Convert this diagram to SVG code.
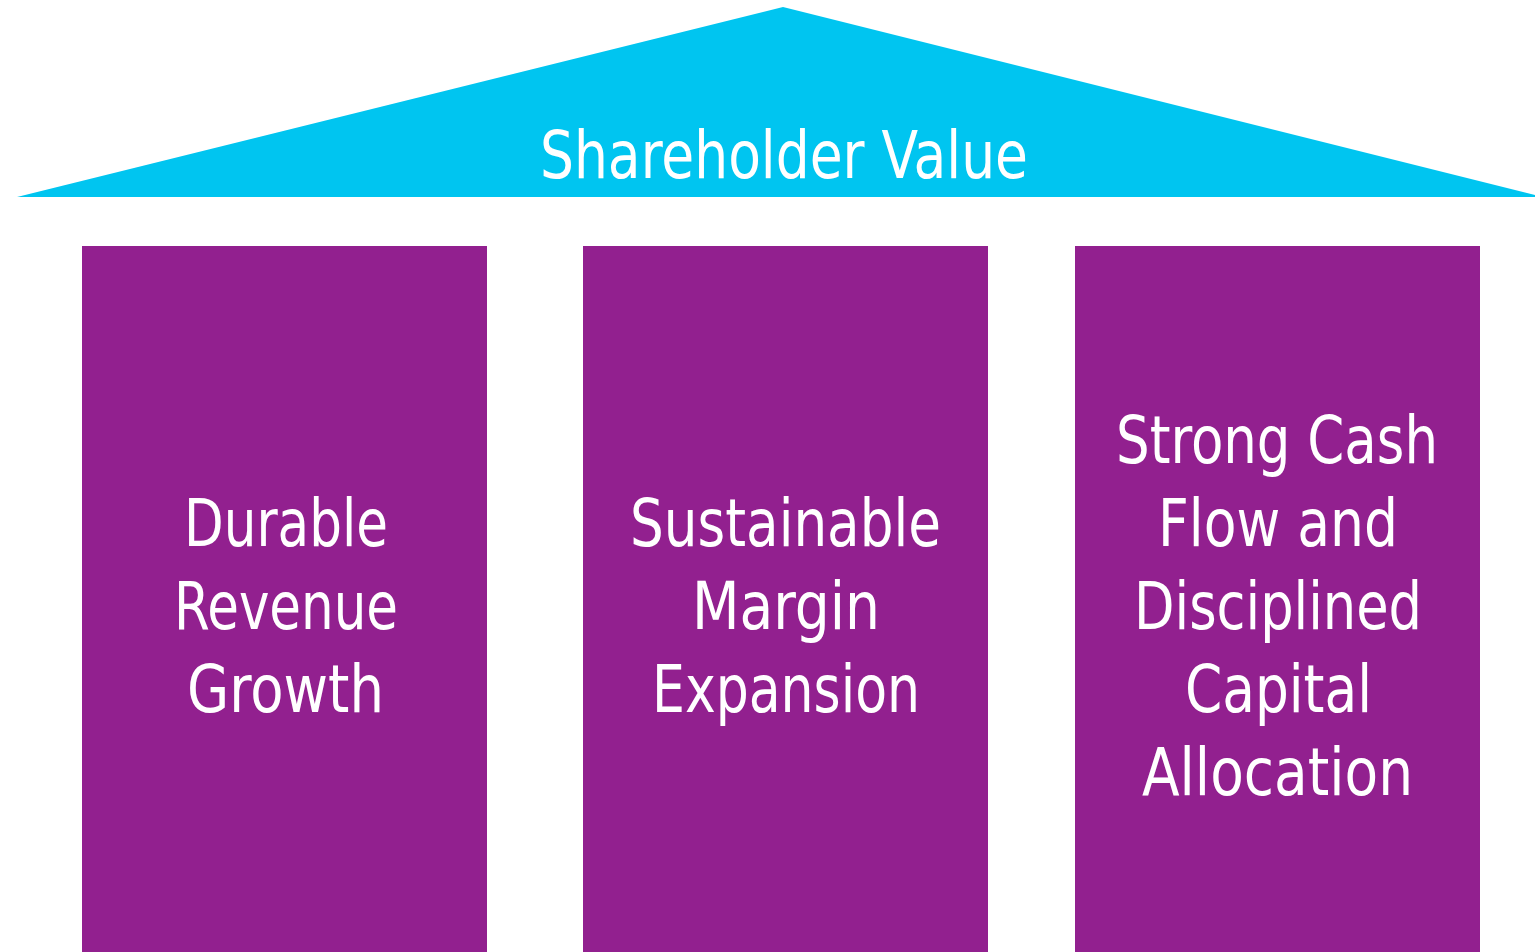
<svg xmlns="http://www.w3.org/2000/svg" width="1535" height="952" viewBox="0 0 1535 952">
<style>
.t{font-family:"DejaVu Sans Condensed","DejaVu Sans","Liberation Sans",sans-serif;font-stretch:condensed;fill:#ffffff;font-size:66px;text-anchor:middle}
.col{fill:#92208F}
</style>
<rect x="0" y="0" width="1535" height="952" fill="#ffffff"/>
<g id="roof">
<polygon points="17,197 783,7 1535,195 1535,197" fill="#00C5F0"/>
<text class="t" x="784" y="178" textLength="488" lengthAdjust="spacingAndGlyphs">Shareholder Value</text>
</g>
<g id="pillar1">
<rect class="col" x="82" y="246" width="405" height="706"/>
<text class="t" x="286" y="546" textLength="204" lengthAdjust="spacingAndGlyphs">Durable</text>
<text class="t" x="286" y="629" textLength="224" lengthAdjust="spacingAndGlyphs">Revenue</text>
<text class="t" x="285.5" y="712" textLength="197" lengthAdjust="spacingAndGlyphs">Growth</text>
</g>
<g id="pillar2">
<rect class="col" x="583" y="246" width="405" height="706"/>
<text class="t" x="785.5" y="546" textLength="311" lengthAdjust="spacingAndGlyphs">Sustainable</text>
<text class="t" x="786" y="629" textLength="188" lengthAdjust="spacingAndGlyphs">Margin</text>
<text class="t" x="786" y="712" textLength="268" lengthAdjust="spacingAndGlyphs">Expansion</text>
</g>
<g id="pillar3">
<rect class="col" x="1075" y="246" width="405" height="706"/>
<text class="t" x="1277" y="463" textLength="322" lengthAdjust="spacingAndGlyphs">Strong Cash</text>
<text class="t" x="1278" y="546" textLength="240" lengthAdjust="spacingAndGlyphs">Flow and</text>
<text class="t" x="1278" y="629" textLength="288" lengthAdjust="spacingAndGlyphs">Disciplined</text>
<text class="t" x="1278.5" y="712" textLength="187" lengthAdjust="spacingAndGlyphs">Capital</text>
<text class="t" x="1277.5" y="795" textLength="271" lengthAdjust="spacingAndGlyphs">Allocation</text>
</g>
<g id="connectors"/>
</svg>
